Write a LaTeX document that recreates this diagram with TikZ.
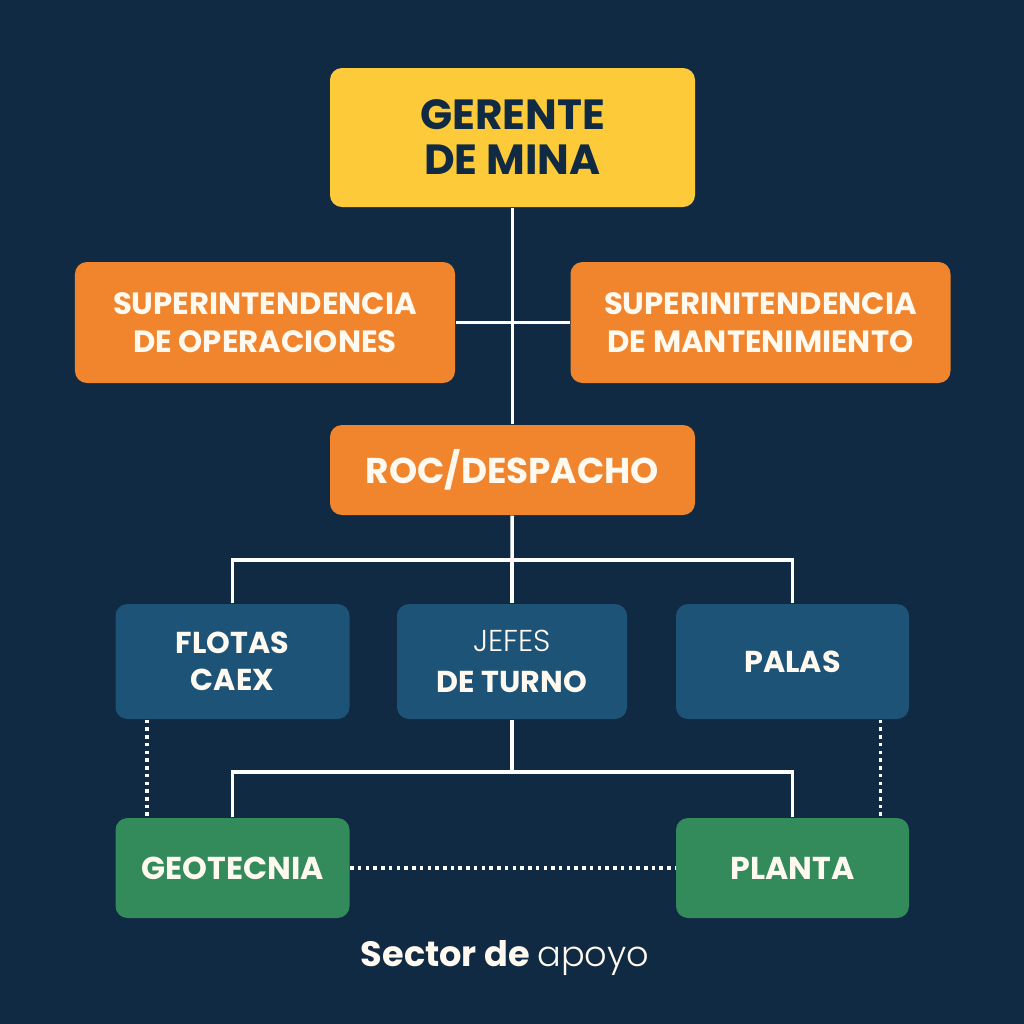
\documentclass[tikz,border=0pt]{standalone}
\usepackage{fontspec}
\setmainfont{Poppins}
\newfontfamily\lightfont{Poppins Light}
\usetikzlibrary{positioning}
\definecolor{navy}{HTML}{0F2A42}
\definecolor{mineyellow}{HTML}{FDCB3A}
\definecolor{mineorange}{HTML}{F0852D}
\definecolor{mineblue}{HTML}{1C5377}
\definecolor{minegreen}{HTML}{338A5A}
\definecolor{offwhite}{HTML}{FFF9F0}
\begin{document}
\begin{tikzpicture}[
    box/.style={rounded corners=3.4pt, align=center, inner sep=0pt, font=\bfseries},
    boss/.style={box, fill=mineyellow, text=navy, minimum width=3.65cm, minimum height=1.39cm,
        font=\bfseries\fontsize{12}{12.8}\selectfont},
    super/.style={box, fill=mineorange, text=offwhite, minimum width=3.8cm, minimum height=1.21cm,
        font=\bfseries\fontsize{8.75}{11}\selectfont},
    unit/.style={box, fill=mineblue, text=offwhite, minimum width=2.34cm, minimum height=1.15cm,
        font=\bfseries\fontsize{8.6}{10.5}\selectfont},
    support/.style={box, fill=minegreen, text=offwhite, minimum width=2.34cm, minimum height=1.0cm,
        font=\bfseries\fontsize{9}{11}\selectfont},
    link/.style={draw=white, line width=1pt},
    dotlink/.style={draw=white, line width=1pt, dash pattern=on 1pt off 1.2pt}
]
    \fill[navy] (0,0) rectangle (10.24,-10.24);
    \useasboundingbox (0,0) rectangle (10.24,-10.24);

    \node[boss] (gerente) at (5.125,-1.375) {GERENTE\\DE MINA};
    \node[super] (supop) at (2.65,-3.225) {SUPERINTENDENCIA\\DE OPERACIONES};
    \node[super] (supmant) at (7.605,-3.225) {SUPERINITENDENCIA\\DE MANTENIMIENTO};
    \node[super, minimum width=3.65cm, minimum height=0.9cm,
        font=\bfseries\fontsize{10.2}{12}\selectfont] (roc) at (5.125,-4.70) {ROC/DESPACHO};

    \node[unit] (flotas) at (2.325,-6.615) {FLOTAS\\CAEX};
    \node[unit, minimum width=2.3cm] (jefes) at (5.12,-6.615) {{\lightfont\mdseries JEFES}\\[1pt]DE TURNO};
    \node[unit, minimum width=2.33cm] (palas) at (7.925,-6.615) {PALAS};

    \node[support] (geo) at (2.325,-8.68) {GEOTECNIA};
    \node[support, minimum width=2.33cm] (planta) at (7.925,-8.68) {PLANTA};

    \node[text=offwhite, font=\fontsize{10}{12}\selectfont] (sector) at (5.05,-9.58)
        {\bfseries Sector de {\lightfont\mdseries apoyo}};

    \coordinate (bus1) at (5.12,-5.60);
    \coordinate (bus2) at (5.12,-7.72);

    % main chain
    \draw[link] (gerente) -- (roc);
    \draw[link] (supop) -- (supmant);
    \draw[link] (roc) -- (bus1);
    \draw[link] (bus1) -- (jefes);
    \draw[link] (flotas.north) |- (bus1) -| (palas.north);
    \draw[link] (jefes) -- (bus2);
    \draw[link] (geo.north) |- (bus2) -| (planta.north);

    % support links
    \draw[dotlink] ([xshift=0.32cm]flotas.south west) -- ([xshift=0.32cm]geo.north west);
    \draw[dotlink] ([xshift=-0.29cm]palas.south east) -- ([xshift=-0.29cm]planta.north east);
    \draw[dotlink] (geo) -- (planta);
\end{tikzpicture}
\end{document}
